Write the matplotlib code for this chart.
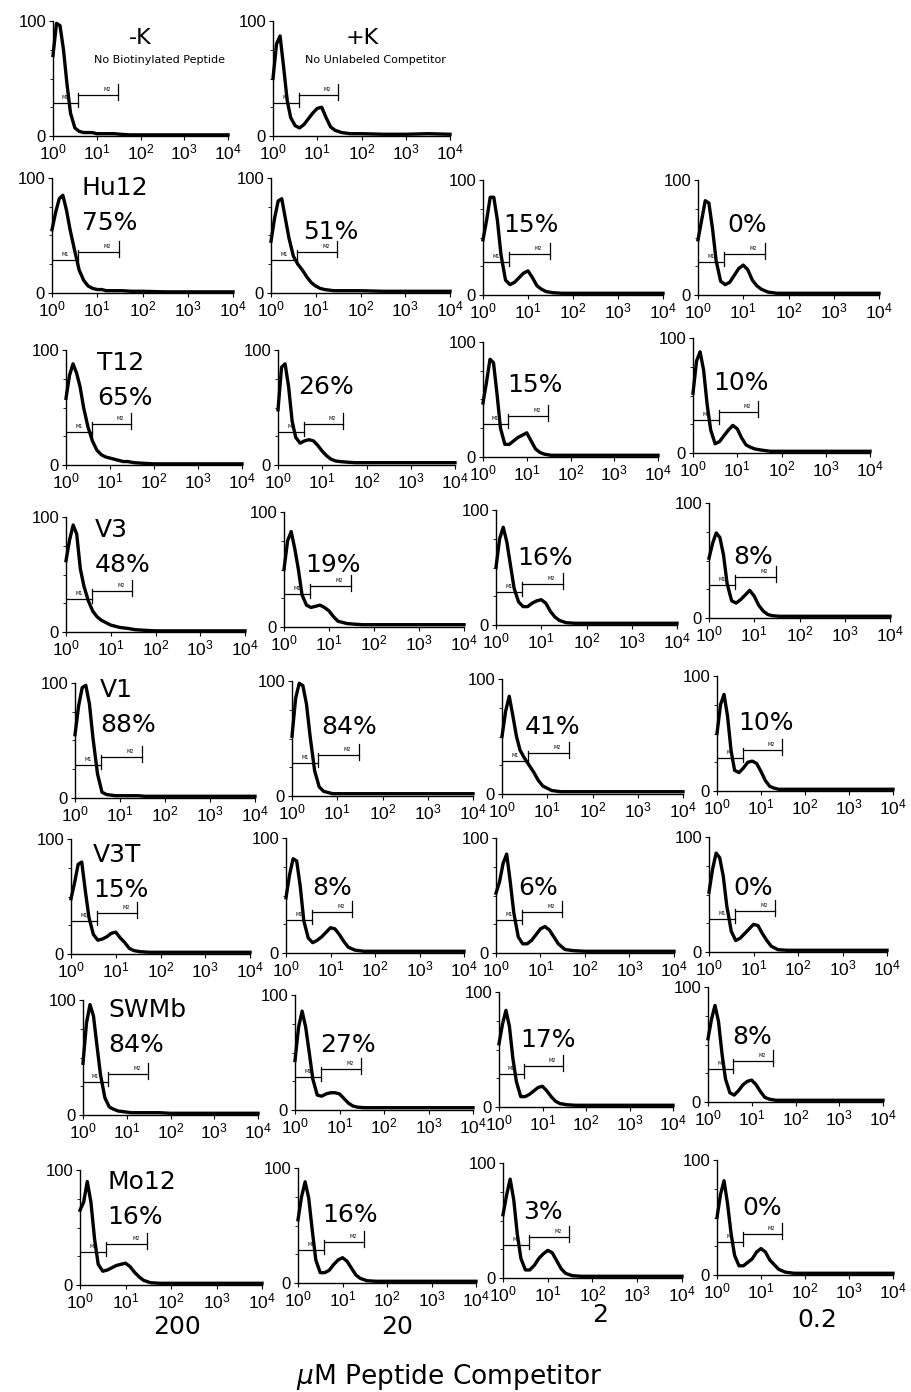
"""Competition binding histograms: biotinylated peptide uptake vs. unlabeled competitor dose."""

import matplotlib
matplotlib.use("Agg")
import matplotlib.pyplot as plt
import numpy as np

W, H = 911, 1392

# fluorescence positions of the histogram vertices, in decades (10^0 .. 10^4)
LOG_FL = [0.0, 0.08, 0.16, 0.24, 0.32, 0.40, 0.50, 0.60, 0.70, 0.80, 0.90, 1.00,
          1.10, 1.20, 1.30, 1.40, 1.55, 1.75, 2.0, 2.5, 3.0, 3.5, 4.0]

# controls
NEG_K = [70, 98, 96, 75, 45, 20, 7, 4, 3, 3, 3, 2, 2, 2, 2, 2, 1.5, 1, 1, 1, 1, 1, 1]
POS_K = [50, 80, 87, 60, 31, 16, 9, 7, 10, 15, 20, 24, 25, 16, 8, 5, 3, 2, 2, 1.5, 1.5, 2, 1.5]

# competitor rows, columns = 200, 20, 2, 0.2 uM
HU12 = [[55, 70, 82, 85, 72, 55, 37, 20, 11, 6, 4, 3, 3, 2, 2, 2, 2, 1.5, 1.5, 1, 1, 1, 1],
        [45, 65, 80, 82, 65, 48, 32, 25, 20, 14, 9, 6, 4, 3, 2.5, 2, 2, 2, 2, 1.5, 1.5, 1.5, 1.5],
        [48, 65, 85, 85, 65, 35, 13, 9, 11, 15, 19, 21, 15, 8, 5, 3, 2, 1.5, 1.5, 1.5, 1.5, 1.5, 1.5],
        [48, 65, 82, 80, 58, 30, 12, 9, 11, 17, 23, 26, 22, 13, 8, 5, 2.5, 1.5, 1.5, 1.5, 1.5, 1.5, 1.5]]
T12 = [[58, 78, 88, 80, 68, 50, 33, 21, 13, 9, 7, 6, 5, 4, 3, 3, 2, 1.5, 1, 1, 1, 1, 1],
       [48, 85, 88, 68, 38, 24, 19, 21, 22, 21, 17, 12, 8, 5, 3.5, 3, 2.5, 2, 2, 2, 2, 2, 2],
       [47, 65, 85, 82, 55, 25, 11, 11, 14, 17, 19, 21, 14, 7, 4, 2.5, 1.5, 1.5, 1.5, 1.5, 1.5, 1.5, 1.5],
       [52, 80, 88, 72, 42, 20, 8, 10, 15, 20, 24, 21, 13, 7, 5, 3.5, 2.5, 1.5, 1.5, 1.5, 1.5, 1.5, 1.5]]
V3 = [[62, 80, 93, 85, 55, 40, 27, 18, 13, 10, 8, 6, 5, 4, 3.5, 3, 2, 1.5, 1, 1, 1, 1, 1],
      [50, 75, 83, 68, 50, 28, 19, 17, 18, 19, 17, 14, 9, 5, 4, 3, 2.5, 2, 2, 2, 2, 2, 2],
      [50, 75, 85, 72, 52, 32, 20, 16, 16, 19, 21, 22, 19, 12, 7, 4, 2, 1.5, 1.5, 1.5, 1.5, 1.5, 1.5],
      [52, 65, 74, 70, 55, 30, 15, 13, 16, 20, 24, 19, 11, 6, 3, 2, 1.5, 1.5, 1.5, 1.5, 1.5, 1.5, 1.5]]
V1 = [[55, 80, 96, 98, 82, 52, 21, 5, 3, 2.5, 2, 2, 2, 2, 2, 2, 1.5, 1.5, 1.5, 1.5, 1.5, 1.5, 1.5],
      [52, 85, 98, 96, 80, 52, 22, 8, 4, 3, 2, 2, 2, 2, 2, 2, 2, 2, 2, 2, 2, 2, 2],
      [50, 72, 85, 68, 50, 38, 31, 25, 19, 12, 7, 5, 3, 2.5, 2, 2, 2, 2, 2, 2, 2, 2, 2],
      [50, 75, 84, 65, 35, 18, 16, 20, 25, 26, 24, 17, 9, 4, 2.5, 1.5, 1.5, 1.5, 1.5, 1.5, 1.5, 1.5, 1.5]]
V3T = [[48, 62, 78, 80, 55, 32, 17, 12, 13, 15, 18, 19, 14, 10, 5, 3, 2, 1.5, 1.5, 1.5, 1.5, 1.5, 1.5],
       [48, 68, 82, 80, 58, 28, 13, 9, 11, 14, 18, 22, 21, 16, 10, 5, 2.5, 1.5, 1.5, 1.5, 1.5, 1.5, 1.5],
       [52, 62, 78, 86, 62, 35, 14, 8, 8, 11, 16, 21, 23, 20, 14, 8, 3, 2, 1.5, 1.5, 1.5, 1.5, 1.5],
       [52, 72, 86, 82, 66, 40, 18, 10, 12, 16, 20, 24, 23, 16, 10, 5, 2, 1.5, 1.5, 1.5, 1.5, 1.5, 1.5]]
SWMB = [[45, 80, 96, 86, 60, 35, 15, 7, 5, 3.5, 3, 2.5, 2, 2, 2, 2, 2, 2, 1.5, 1.5, 1.5, 1.5, 1.5],
        [43, 72, 86, 72, 50, 27, 13, 12, 14, 15, 15, 14, 10, 6, 3.5, 2.5, 2, 2, 2, 2, 2, 2, 2],
        [55, 72, 84, 70, 42, 22, 9, 9, 11, 14, 17, 18, 14, 9, 5, 3, 2, 1.5, 1.5, 1.5, 1.5, 1.5, 1.5],
        [55, 72, 84, 70, 42, 20, 8, 6, 10, 15, 18, 19, 15, 9, 4, 2.5, 1.5, 1.5, 1.5, 1.5, 1.5, 1.5, 1.5]]
MO12 = [[65, 72, 90, 72, 40, 18, 12, 13, 15, 17, 18, 19, 16, 11, 7, 4, 2, 1.5, 1.5, 1.5, 1.5, 1.5, 1.5],
        [55, 75, 88, 74, 46, 20, 9, 9, 11, 16, 20, 22, 19, 13, 7, 4, 2, 1.5, 1.5, 1.5, 1.5, 1.5, 1.5],
        [55, 72, 86, 68, 38, 17, 7, 7, 11, 17, 21, 24, 22, 15, 8, 4, 2, 1.5, 1.5, 1.5, 1.5, 1.5, 1.5],
        [50, 70, 82, 62, 36, 17, 8, 8, 11, 14, 20, 23, 20, 13, 9, 5, 2.5, 1.5, 1.5, 1.5, 1.5, 1.5, 1.5]]

PEPTIDES = ["Hu12", "T12", "V3", "V1", "V3T", "SWMb", "Mo12"]
INHIBITION = [["75%", "51%", "15%", "0%"],
              ["65%", "26%", "15%", "10%"],
              ["48%", "19%", "16%", "8%"],
              ["88%", "84%", "41%", "10%"],
              ["15%", "8%", "6%", "0%"],
              ["84%", "27%", "17%", "8%"],
              ["16%", "16%", "3%", "0%"]]
CONCENTRATIONS = ["200", "20", "2", "0.2"]
CONTROLS = [("-K", "No Biotinylated Peptide"), ("+K", "No Unlabeled Competitor")]

# marker gates (decades) and their heights on the 0-100 scale
M1_END, M2_END = 0.58, 1.48
M1_Y, M2_Y = 29, 36

# panel frames in pixels: left, right, bottom (row 0 = controls)
LEFT = [[53, 273], [52, 271, 483, 698], [66, 278, 483, 693], [66, 284, 496, 709],
        [75, 292, 502, 717], [71, 286, 496, 709], [83, 295, 499, 708], [80, 298, 503, 717]]
RIGHT = [[228, 450], [233, 450, 663, 879], [242, 455, 658, 870], [245, 464, 677, 890],
         [255, 473, 683, 893], [250, 464, 674, 887], [258, 473, 673, 883], [262, 476, 682, 893]]
BOTTOM = [[136, 136], [293, 293, 295, 295], [465, 465, 457, 453], [632, 627, 625, 618],
          [798, 796, 794, 791], [954, 953, 953, 952], [1115, 1110, 1107, 1102], [1285, 1283, 1278, 1275]]
PANEL_H = 115
PCT_OFF = [[(30, 70), (32, 61), (20, 70), (29, 70)],
           [(31, 67), (20, 78), (24, 72), (20, 70)],
           [(29, 67), (21, 62), (21, 67), (24, 61)],
           [(25, 73), (29, 69), (23, 67), (21, 68)],
           [(22, 64), (26, 65), (22, 65), (24, 64)],
           [(25, 70), (25, 65), (21, 67), (24, 65)],
           [(27, 68), (24, 68), (20, 66), (25, 67)]]
CONC_POS = [(177, 1327), (397, 1327), (600, 1315), (817, 1320)]

BIG = dict(family="DejaVu Sans", fontsize=18)


def fx(x):
    return x / W


def fy(y):
    return 1 - y / H


def histogram(fig, row, col, counts):
    l, r, b = LEFT[row][col], RIGHT[row][col], BOTTOM[row][col]
    ax = fig.add_axes([fx(l), fy(b), (r - l) / W, PANEL_H / H])
    fl = 10 ** np.asarray(LOG_FL)
    ax.plot(fl, counts, color="black", lw=2.4, solid_joinstyle="round", clip_on=False)
    ax.set_xscale("log")
    ax.set_xlim(1, 1e4)
    ax.set_ylim(0, 100)

    # M1 / M2 gates
    m1, m2 = 10 ** M1_END, 10 ** M2_END
    ax.plot([1, m1], [M1_Y, M1_Y], color="black", lw=0.9)
    ax.plot([m1, m1], [M1_Y - 4, M2_Y + 1], color="black", lw=0.9)
    ax.plot([m1, m2], [M2_Y, M2_Y], color="black", lw=0.9)
    ax.plot([m2, m2], [M2_Y - 5, M2_Y + 9], color="black", lw=0.9)
    ax.text(10 ** (M1_END / 2), M1_Y + 2, "M1", fontsize=3.5, ha="center", va="bottom")
    ax.text(10 ** ((M1_END + M2_END) / 2 + 0.2), M2_Y + 2, "M2", fontsize=3.5,
            ha="center", va="bottom")

    for side in ("top", "right"):
        ax.spines[side].set_visible(False)
    for side in ("left", "bottom"):
        ax.spines[side].set_linewidth(1.0)
    ax.set_xticks([1, 10, 100, 1000, 10000])
    ax.set_xticklabels([r"$\mathregular{10^{%d}}$" % k for k in range(5)])
    ax.xaxis.set_minor_locator(matplotlib.ticker.NullLocator())
    ax.set_yticks([0, 100])
    ax.set_yticklabels(["0", "100"])
    ax.set_yticks([25, 50, 75], minor=True)
    ax.tick_params(axis="x", length=3, width=0.8, pad=2, labelsize=12.5)
    ax.tick_params(axis="y", length=3, width=0.8, pad=2, labelsize=12)
    ax.tick_params(axis="y", which="minor", length=2, width=0.6)
    for lab in ax.get_xticklabels() + ax.get_yticklabels():
        lab.set_fontfamily("Liberation Sans")
    return ax


def main():
    fig = plt.figure(figsize=(W / 100, H / 100), dpi=100)

    for col, (series, (head, sub)) in enumerate(zip([NEG_K, POS_K], CONTROLS)):
        histogram(fig, 0, col, series)
        cx = [140, 362][col]
        sx = [160, 375][col]
        fig.text(fx(cx), fy(38), head, ha="center", va="center", family="DejaVu Sans", fontsize=16)
        fig.text(fx(sx), fy(60), sub, ha="center", va="center", family="DejaVu Sans", fontsize=8)

    rows = [HU12, T12, V3, V1, V3T, SWMB, MO12]
    for i, (name, block) in enumerate(zip(PEPTIDES, rows)):
        row = i + 1
        for col in range(4):
            histogram(fig, row, col, block[col])
            dx, dy = PCT_OFF[i][col]
            x = LEFT[row][col] + dx
            y = BOTTOM[row][col] - dy
            fig.text(fx(x), fy(y), INHIBITION[i][col], ha="left", va="center", **BIG)
            if col == 0:
                fig.text(fx(x), fy(y - 35), name, ha="left", va="center", **BIG)

    for (x, y), c in zip(CONC_POS, CONCENTRATIONS):
        fig.text(fx(x), fy(y), c, ha="center", va="center", **BIG)
    fig.text(fx(449), fy(1377), r"$\mu$M Peptide Competitor", ha="center", va="center",
             family="DejaVu Sans", fontsize=19)

    fig.savefig("out.png", dpi=100)
    plt.close(fig)


if __name__ == "__main__":
    main()
